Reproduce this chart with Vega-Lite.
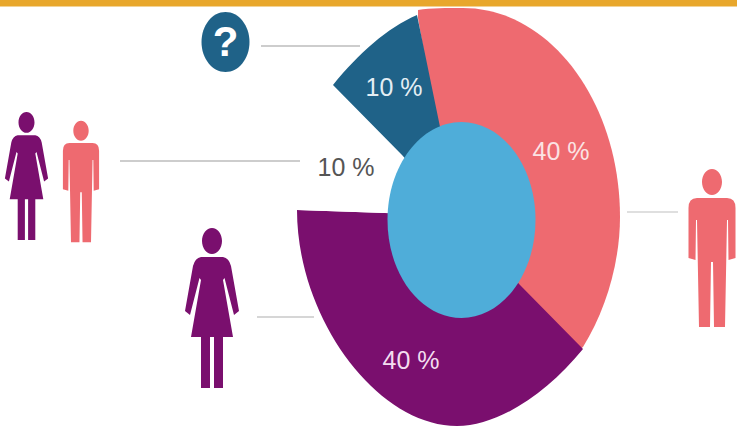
{"$schema":"https://vega.github.io/schema/vega-lite/v6.json","width":737,"height":433,"padding":0,"autosize":{"type":"none"},"background":"white","config":{"view":{"stroke":null}},
"datasets":{"segments":[{"segment":"Men","share":40,"label":"40 %"},{"segment":"Women","share":40,"label":"40 %"},{"segment":"Both","share":10,"label":"10 %"},{"segment":"Unknown","share":10,"label":"10 %"}]},
"data":{"name":"segments"},
"layer":[
{"mark":{"type":"point","filled":true,"opacity":1,"strokeWidth":0,"size":4},
"encoding":{"x":{"datum":459,"type":"quantitative","scale":{"domain":[0,737],"range":[0,737],"nice":false},"axis":null},"y":{"datum":218,"type":"quantitative","scale":{"domain":[0,433],"range":[0,433],"nice":false},"axis":null},
"color":{"field":"segment","type":"nominal","legend":null,"scale":{"domain":["Men","Women","Both","Unknown"],"range":["#EE6A70","#7A0F6E","#FFFFFF","#1F6288"]}},
"shape":{"field":"segment","type":"nominal","legend":null,"scale":{"domain":["Men","Women","Both","Unknown"],"range":[
"M-41 -208 C-28 -210 -12 -210 4 -210 C91 -210 161 -116 161 -1 C161 44 147 92 124 129 L120 132 L58 70 L-23 -94 L-41 -200 Z",
"M-162 -8 C-162 100 -82 208 -2 208 C40 208 88 175 124 131 L61 67 L0 0 L-74 -5 Z",
"M-57 -63 L-126 -133 L-162 -8 L-74 -5 Z",
"M-42 -203 L-20 -96 L0 0 L-57 -63 L-126 -133 C-100 -165 -72 -190 -42 -203 Z"]}}}},
{"data":{"values":[{"item":"centre"}]},"mark":{"type":"point","filled":true,"opacity":1,"strokeWidth":0,"size":4,"color":"#4FADD9","shape":"M-74 0 A74 98 0 1 1 74 0 A74 98 0 1 1 -74 0 Z"},
"encoding":{"x":{"datum":461.5,"type":"quantitative","scale":{"domain":[0,737],"range":[0,737],"nice":false},"axis":null},"y":{"datum":220,"type":"quantitative","scale":{"domain":[0,433],"range":[0,433],"nice":false},"axis":null}}},
{"data":{"values":[{"item":"band"}]},"mark":{"type":"rect","color":"#E8A72C"},
"encoding":{"x":{"datum":0,"type":"quantitative","scale":{"domain":[0,737],"range":[0,737],"nice":false},"axis":null},"x2":{"datum":737},"y":{"datum":0,"type":"quantitative","scale":{"domain":[0,433],"range":[0,433],"nice":false},"axis":null},"y2":{"datum":6.5}}},
{"data":{"values":[{"item":"unknown leader"}]},"mark":{"type":"rule","color":"#BDBDBD","strokeWidth":1.5},
"encoding":{"x":{"datum":261,"type":"quantitative","scale":{"domain":[0,737],"range":[0,737],"nice":false},"axis":null},"x2":{"datum":360},"y":{"datum":46,"type":"quantitative","scale":{"domain":[0,433],"range":[0,433],"nice":false},"axis":null}}},
{"data":{"values":[{"item":"both leader"}]},"mark":{"type":"rule","color":"#BDBDBD","strokeWidth":1.5},
"encoding":{"x":{"datum":120,"type":"quantitative","scale":{"domain":[0,737],"range":[0,737],"nice":false},"axis":null},"x2":{"datum":300},"y":{"datum":161,"type":"quantitative","scale":{"domain":[0,433],"range":[0,433],"nice":false},"axis":null}}},
{"data":{"values":[{"item":"men leader"}]},"mark":{"type":"rule","color":"#D4D4D4","strokeWidth":1.5},
"encoding":{"x":{"datum":627,"type":"quantitative","scale":{"domain":[0,737],"range":[0,737],"nice":false},"axis":null},"x2":{"datum":678},"y":{"datum":212,"type":"quantitative","scale":{"domain":[0,433],"range":[0,433],"nice":false},"axis":null}}},
{"data":{"values":[{"item":"women leader"}]},"mark":{"type":"rule","color":"#C8C8C8","strokeWidth":1.5},
"encoding":{"x":{"datum":257,"type":"quantitative","scale":{"domain":[0,737],"range":[0,737],"nice":false},"axis":null},"x2":{"datum":314},"y":{"datum":317,"type":"quantitative","scale":{"domain":[0,433],"range":[0,433],"nice":false},"axis":null}}},
{"data":{"values":[{"item":"question"}]},"mark":{"type":"point","filled":true,"opacity":1,"strokeWidth":0,"size":4,"color":"#1F6288","shape":"M-24 0 A24 30 0 1 1 24 0 A24 30 0 1 1 -24 0 Z"},
"encoding":{"x":{"datum":225.5,"type":"quantitative","scale":{"domain":[0,737],"range":[0,737],"nice":false},"axis":null},"y":{"datum":42,"type":"quantitative","scale":{"domain":[0,433],"range":[0,433],"nice":false},"axis":null}}},
{"data":{"values":[{"mark":"?"}]},"mark":{"type":"text","color":"#FFFFFF","font":"Liberation Sans","fontWeight":"bold","fontSize":42,"align":"center","baseline":"middle"},
"encoding":{"x":{"datum":225.5,"type":"quantitative","scale":{"domain":[0,737],"range":[0,737],"nice":false},"axis":null},"y":{"datum":43,"type":"quantitative","scale":{"domain":[0,433],"range":[0,433],"nice":false},"axis":null},"text":{"field":"mark"}}},
{"data":{"values":[{"figure":"woman large"}]},"mark":{"type":"point","filled":true,"opacity":1,"strokeWidth":0,"size":4,"color":"#7A0F6E","shape":"M-11 -53 L11 -53 Q17 -52 19 -44 L27 1 L22 5 L12.5 -32 L11 -30 L21 27 L11 27 L11 78 L2 78 L2 27 L-2 27 L-2 78 L-11 78 L-11 27 L-21 27 L-11 -30 L-12.5 -32 L-22 5 L-27 1 L-19 -44 Q-17 -52 -11 -53 Z M-10 -69 A10 13 0 1 1 10 -69 A10 13 0 1 1 -10 -69 Z"},
"encoding":{"x":{"datum":212,"type":"quantitative","scale":{"domain":[0,737],"range":[0,737],"nice":false},"axis":null},"y":{"datum":310,"type":"quantitative","scale":{"domain":[0,433],"range":[0,433],"nice":false},"axis":null}}},
{"data":{"values":[{"figure":"woman small"}]},"mark":{"type":"point","filled":true,"opacity":1,"strokeWidth":0,"size":2.56,"color":"#7A0F6E","shape":"M-11 -53 L11 -53 Q17 -52 19 -44 L27 1 L22 5 L12.5 -32 L11 -30 L21 27 L11 27 L11 78 L2 78 L2 27 L-2 27 L-2 78 L-11 78 L-11 27 L-21 27 L-11 -30 L-12.5 -32 L-22 5 L-27 1 L-19 -44 Q-17 -52 -11 -53 Z M-10 -69 A10 13 0 1 1 10 -69 A10 13 0 1 1 -10 -69 Z"},
"encoding":{"x":{"datum":26.5,"type":"quantitative","scale":{"domain":[0,737],"range":[0,737],"nice":false},"axis":null},"y":{"datum":177.6,"type":"quantitative","scale":{"domain":[0,433],"range":[0,433],"nice":false},"axis":null}}},
{"data":{"values":[{"figure":"man large"}]},"mark":{"type":"point","filled":true,"opacity":1,"strokeWidth":0,"size":4,"color":"#EE6A70","shape":"M-15 -52 L15 -52 Q23.5 -52 23.5 -42 L23.5 8 L16.5 10 L16 -30 L15 -30 L13 77 L2 77 L1 12 L-1 12 L-2 77 L-13 77 L-15 -30 L-16 -30 L-16.5 10 L-23.5 8 L-23.5 -42 Q-23.5 -52 -15 -52 Z M-10 -68 A10 13 0 1 1 10 -68 A10 13 0 1 1 -10 -68 Z"},
"encoding":{"x":{"datum":712,"type":"quantitative","scale":{"domain":[0,737],"range":[0,737],"nice":false},"axis":null},"y":{"datum":250,"type":"quantitative","scale":{"domain":[0,433],"range":[0,433],"nice":false},"axis":null}}},
{"data":{"values":[{"figure":"man small"}]},"mark":{"type":"point","filled":true,"opacity":1,"strokeWidth":0,"size":2.37,"color":"#EE6A70","shape":"M-15 -52 L15 -52 Q23.5 -52 23.5 -42 L23.5 8 L16.5 10 L16 -30 L15 -30 L13 77 L2 77 L1 12 L-1 12 L-2 77 L-13 77 L-15 -30 L-16 -30 L-16.5 10 L-23.5 8 L-23.5 -42 Q-23.5 -52 -15 -52 Z M-10 -68 A10 13 0 1 1 10 -68 A10 13 0 1 1 -10 -68 Z"},
"encoding":{"x":{"datum":81,"type":"quantitative","scale":{"domain":[0,737],"range":[0,737],"nice":false},"axis":null},"y":{"datum":183,"type":"quantitative","scale":{"domain":[0,433],"range":[0,433],"nice":false},"axis":null}}},
{"transform":[{"filter":"datum.segment === 'Men'"}],"mark":{"type":"text","color":"#FBE3E4","font":"Liberation Sans","fontSize":25,"align":"center","baseline":"middle"},
"encoding":{"x":{"datum":561,"type":"quantitative","scale":{"domain":[0,737],"range":[0,737],"nice":false},"axis":null},"y":{"datum":152,"type":"quantitative","scale":{"domain":[0,433],"range":[0,433],"nice":false},"axis":null},"text":{"field":"label"}}},
{"transform":[{"filter":"datum.segment === 'Women'"}],"mark":{"type":"text","color":"#F3DDF0","font":"Liberation Sans","fontSize":25,"align":"center","baseline":"middle"},
"encoding":{"x":{"datum":411,"type":"quantitative","scale":{"domain":[0,737],"range":[0,737],"nice":false},"axis":null},"y":{"datum":361,"type":"quantitative","scale":{"domain":[0,433],"range":[0,433],"nice":false},"axis":null},"text":{"field":"label"}}},
{"transform":[{"filter":"datum.segment === 'Both'"}],"mark":{"type":"text","color":"#555555","font":"Liberation Sans","fontSize":25,"align":"center","baseline":"middle"},
"encoding":{"x":{"datum":346,"type":"quantitative","scale":{"domain":[0,737],"range":[0,737],"nice":false},"axis":null},"y":{"datum":168,"type":"quantitative","scale":{"domain":[0,433],"range":[0,433],"nice":false},"axis":null},"text":{"field":"label"}}},
{"transform":[{"filter":"datum.segment === 'Unknown'"}],"mark":{"type":"text","color":"#E4EEF4","font":"Liberation Sans","fontSize":25,"align":"center","baseline":"middle"},
"encoding":{"x":{"datum":394,"type":"quantitative","scale":{"domain":[0,737],"range":[0,737],"nice":false},"axis":null},"y":{"datum":88,"type":"quantitative","scale":{"domain":[0,433],"range":[0,433],"nice":false},"axis":null},"text":{"field":"label"}}}
]}
